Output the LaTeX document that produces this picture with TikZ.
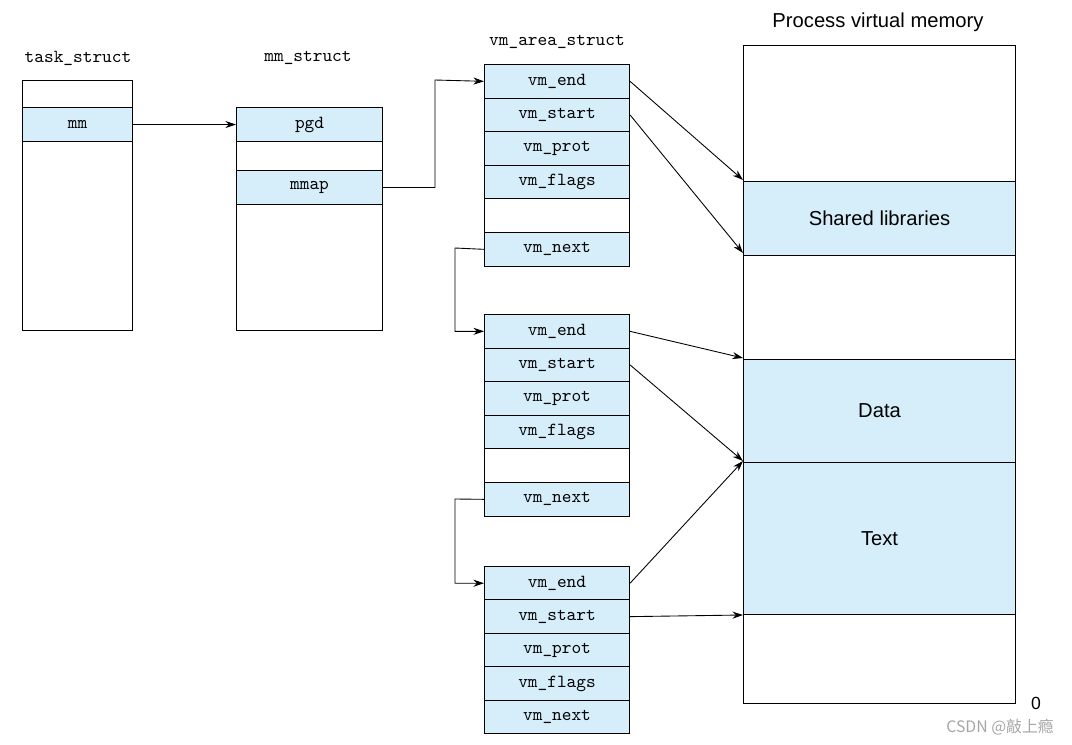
\documentclass[tikz,border=0pt]{standalone}
\usepackage{fontspec}
\newfontfamily\sansf{Liberation Sans}
\newfontfamily\cjk{Noto Sans CJK SC}
\usetikzlibrary{arrows.meta}
\definecolor{lb}{RGB}{214,238,250}
\begin{document}
\begin{tikzpicture}[x=0.02cm,y=-0.02cm,
  cell/.style={draw,line width=0.6pt,inner sep=0pt,font=\ttfamily\fontsize{10.5}{12}\selectfont},
  fcell/.style={cell,fill=lb},
  arr/.style={-{Stealth[length=6pt,width=4pt]},line width=0.5pt},
  ttl/.style={font=\ttfamily\fontsize{10.5}{12}\selectfont}]
\useasboundingbox (0,0) rectangle (1072,744);
% helper: rows
\newcommand\rowc[6]{\node[#1,minimum width=#4*0.02cm,minimum height=#5*0.02cm,anchor=north west] (#2) at (#3) {#6};}
% task_struct
\node[ttl] (tt) at (78,58) {task\_struct};
\rowc{cell}{ts}{22,80}{110}{250}{}
\rowc{fcell}{mm}{22,107}{110}{34}{mm}
% mm_struct
\node[ttl] (mt) at (308,58) {mm\_struct};
\rowc{cell}{ms}{236,107}{146}{223}{}
\rowc{fcell}{pgd}{236,107}{146}{34}{pgd}
\rowc{fcell}{mmap}{236,170}{146}{34}{mmap}
% vm_area_struct
\node[ttl] (vt) at (557,42) {vm\_area\_struct};
\foreach \p/\y in {a/64,b/314}{
  \rowc{fcell}{\p end}{484,\y}{145}{33.6}{vm\_end}
  \rowc{fcell}{\p start}{484,\y+33.6}{145}{33.6}{vm\_start}
  \rowc{fcell}{\p prot}{484,\y+67.2}{145}{33.6}{vm\_prot}
  \rowc{fcell}{\p flags}{484,\y+100.8}{145}{33.6}{vm\_flags}
  \rowc{cell}{\p blank}{484,\y+134.4}{145}{33.6}{}
  \rowc{fcell}{\p next}{484,\y+168}{145}{33.6}{vm\_next}
}
\rowc{fcell}{cend}{484,566}{145}{33.4}{vm\_end}
\rowc{fcell}{cstart}{484,599.4}{145}{33.4}{vm\_start}
\rowc{fcell}{cprot}{484,632.8}{145}{33.4}{vm\_prot}
\rowc{fcell}{cflags}{484,666.2}{145}{33.4}{vm\_flags}
\rowc{fcell}{cnext}{484,699.6}{145}{33.4}{vm\_next}
% process memory
\node[font=\sansf\fontsize{11.5}{13}\selectfont] (pt) at (878,22) {Process virtual memory};
\rowc{cell}{pm}{743,45}{272}{658}{}
\rowc{fcell}{shl}{743,181}{272}{74}{\sansf\fontsize{11.5}{13}\selectfont Shared libraries}
\rowc{fcell}{data}{743,359}{272}{103}{\sansf\fontsize{11.5}{13}\selectfont Data}
\rowc{fcell}{text}{743,462}{272}{152}{\sansf\fontsize{11.5}{13}\selectfont Text}
\node[font=\sansf\fontsize{10}{12}\selectfont] (zero) at (1036,703) {0};
\node[font=\cjk\fontsize{9}{11}\selectfont,text=gray!70] (wm) at (1000,727) {CSDN @敲上瘾};
% arrows
\draw[arr] (mm.east) -- (pgd.west);
\draw[arr] (mmap.east) -| (435,80) -- (aend.west);
\draw[arr] (anext.west) -- (455,248) |- (bend.west);
\draw[arr] (bnext.west) -- (455,499) |- (cend.west);
\coordinate (m1) at (743,180);
\coordinate (m2) at (743,253);
\coordinate (m3) at (743,358);
\coordinate (m4) at (743,461);
\coordinate (m5) at (743,615);
\draw[arr] (aend.east) -- (m1);
\draw[arr] (astart.east) -- (m2);
\draw[arr] (bend.east) -- (m3);
\draw[arr] (bstart.east) -- (m4);
\draw[arr] (cend.east) -- (m4);
\draw[arr] (cstart.east) -- (m5);
\end{tikzpicture}
\end{document}
